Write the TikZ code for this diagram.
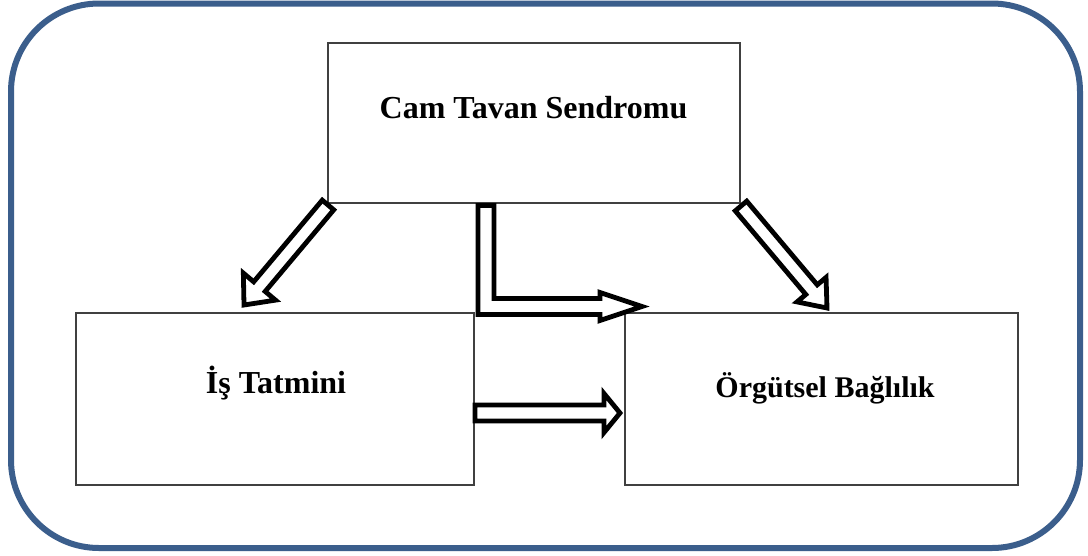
\documentclass[tikz,border=0pt]{standalone}
\usepackage{fontspec}
\setmainfont{Liberation Serif}
\usetikzlibrary{calc}
\definecolor{framecol}{RGB}{59,94,140}
\definecolor{boxcol}{RGB}{64,64,64}

% hollow block arrow: #1 tail, #2 tip, #3 half shaft width, #4 half head width, #5 head length
\newcommand\blockarrow[5]{%
  \coordinate (ba-neck) at ($(#2)!#5!(#1)$);
  \draw[arrowline]
    ($(#1)!#3!90:(#2)$) -- ($(ba-neck)!#3!90:(#2)$) -- ($(ba-neck)!#4!90:(#2)$)
    -- (#2)
    -- ($(ba-neck)!#4!-90:(#2)$) -- ($(ba-neck)!#3!-90:(#2)$) -- ($(#1)!#3!-90:(#2)$) -- cycle;
}

\tikzset{
  conceptbox/.style={draw=boxcol, line width=1.2pt, fill=white},
  boxlabel/.style={anchor=base, font=\bfseries\fontsize{32}{38}\selectfont, inner sep=0pt},
  arrowline/.style={draw=black, line width=4.8pt, fill=white, line join=miter, miter limit=10},
}

\begin{document}
\begin{tikzpicture}[x=1pt,y=-1pt]
  \useasboundingbox (0,0) rectangle (1088,555);
  \fill[white] (0,0) rectangle (1088,555);

  % outer rounded frame
  \draw[framecol, line width=6pt, rounded corners=88pt] (11,3.5) rectangle (1080,548);

  % boxes
  \draw[conceptbox] (328,43) rectangle (740,203);
  \draw[conceptbox] (76,313) rectangle (474,485);
  \draw[conceptbox] (625,313) rectangle (1018,485);

  \node[boxlabel] (cam) at (533.5,118) {Cam Tavan Sendromu};
  \node[boxlabel] (is) at (276,393) {İş Tatmini};
  \node[boxlabel, font=\bfseries\fontsize{30}{36}\selectfont] (org) at (825,397) {Örgütsel Bağlılık};

  % arrow end points
  \coordinate (a1s) at (328,205);
  \coordinate (a1e) at (244,305);
  \coordinate (a3s) at (741,206);
  \coordinate (a3e) at (827,308);
  \coordinate (a4s) at (475,413);
  \coordinate (a4e) at (620,413);

  \blockarrow{a1s}{a1e}{7.5pt}{21pt}{24pt}
  \blockarrow{a3s}{a3e}{7.5pt}{19pt}{24pt}
  \blockarrow{a4s}{a4e}{8pt}{19.5pt}{16pt}

  % elbow arrow from the top box to the right box
  \draw[arrowline] (478,205.5) -- (478,314.5) -- (600,314.5) -- (600,320.5) -- (642,306.5)
    -- (600,292.5) -- (600,298.5) -- (494,298.5) -- (494,205.5) -- cycle;
\end{tikzpicture}
\end{document}
